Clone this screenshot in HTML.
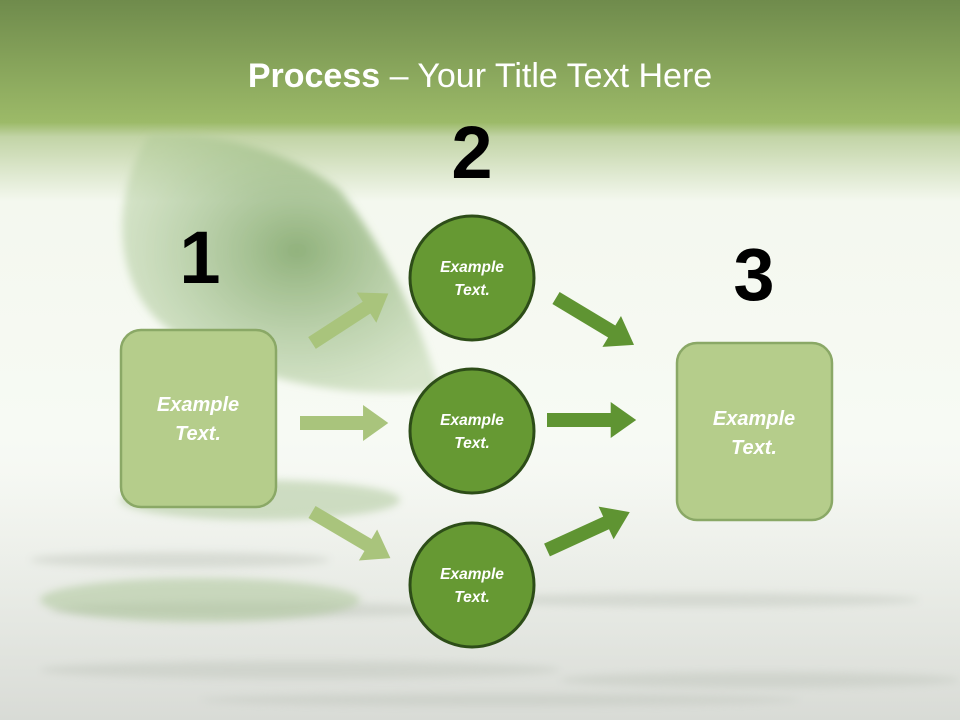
<!DOCTYPE html>
<html><head><meta charset="utf-8"><style>
html,body{margin:0;padding:0}
body{width:960px;height:720px;overflow:hidden;font-family:"Liberation Sans",sans-serif}
</style></head><body>
<svg width="960" height="720" xmlns="http://www.w3.org/2000/svg">
<defs>
<linearGradient id="bg" x1="0" y1="0" x2="0" y2="1">
<stop offset="0" stop-color="#6f8b4c"/>
<stop offset="0.17" stop-color="#9cba68"/>
<stop offset="0.19" stop-color="#c2d4a6"/>
<stop offset="0.28" stop-color="#f4f8ef"/>
<stop offset="0.6" stop-color="#f7faf4"/>
<stop offset="1" stop-color="#eeeeee"/>
</linearGradient>
<radialGradient id="leaf" cx="0.55" cy="0.45" r="0.6">
<stop offset="0" stop-color="#6f9a55" stop-opacity="0.75"/>
<stop offset="1" stop-color="#a9c792" stop-opacity="0.4"/>
</radialGradient>
<linearGradient id="water" x1="0" y1="0" x2="0" y2="1">
<stop offset="0" stop-color="#dfe6d8" stop-opacity="0"/>
<stop offset="1" stop-color="#d3d6d0" stop-opacity="0.8"/>
</linearGradient>
<filter id="bl"><feGaussianBlur stdDeviation="4"/></filter>
<path id="ar" d="M0,-7 L65,-7 L65,-18 L91,0 L65,18 L65,7 L0,7 Z"/>
</defs>
<rect width="960" height="720" fill="url(#bg)"/>
<rect x="0" y="470" width="960" height="250" fill="url(#water)"/>
<g fill="#bfc5bb" opacity="0.45" filter="url(#bl)">
<ellipse cx="180" cy="560" rx="150" ry="8"/>
<ellipse cx="250" cy="610" rx="200" ry="8"/>
<ellipse cx="700" cy="600" rx="220" ry="7"/>
<ellipse cx="300" cy="670" rx="260" ry="9"/>
<ellipse cx="760" cy="680" rx="200" ry="8"/>
<ellipse cx="500" cy="700" rx="300" ry="6"/>
</g>
<g fill="#a9c494" opacity="0.5" filter="url(#bl)">
<ellipse cx="200" cy="600" rx="160" ry="22"/>
<ellipse cx="260" cy="500" rx="140" ry="20"/>
</g>
<path d="M150,135 C110,190 110,290 170,330 C250,385 360,400 440,390 C420,320 380,240 340,190 C290,150 210,130 150,135 Z" fill="url(#leaf)" filter="url(#bl)"/>
<text x="480" y="87" text-anchor="middle" fill="#fff" font-size="34"><tspan font-weight="bold">Process</tspan> – Your Title Text Here</text>
<g font-weight="bold" font-size="74" fill="#000" text-anchor="middle">
<text x="200" y="283">1</text>
<text x="472" y="178">2</text>
<text x="754" y="300">3</text>
</g>
<g fill="#a9c47c">
<use href="#ar" transform="translate(312,343) rotate(-33)"/>
<use href="#ar" transform="translate(300,423) scale(0.97,1)"/>
<use href="#ar" transform="translate(312,512) rotate(30.5)"/>
</g>
<g fill="#5f9432">
<use href="#ar" transform="translate(556,298) rotate(31)"/>
<use href="#ar" transform="translate(547,420) scale(0.98,1)"/>
<use href="#ar" transform="translate(547,550) rotate(-24.6)"/>
</g>
<rect x="121" y="330" width="155" height="177" rx="20" fill="#b5cd8b" stroke="#8aa866" stroke-width="2.5"/>
<rect x="677" y="343" width="155" height="177" rx="20" fill="#b5cd8b" stroke="#8aa866" stroke-width="2.5"/>
<g fill="#669933" stroke="#2d4d18" stroke-width="3">
<circle cx="472" cy="278" r="62"/>
<circle cx="472" cy="431" r="62"/>
<circle cx="472" cy="585" r="62"/>
</g>
<g fill="#fff" font-weight="bold" font-style="italic" text-anchor="middle">
<g font-size="20">
<text x="198" y="411">Example</text><text x="198" y="440">Text.</text>
<text x="754" y="425">Example</text><text x="754" y="454">Text.</text>
</g>
<g font-size="15.5">
<text x="472" y="272">Example</text><text x="472" y="295">Text.</text>
<text x="472" y="425">Example</text><text x="472" y="448">Text.</text>
<text x="472" y="579">Example</text><text x="472" y="602">Text.</text>
</g>
</g>
</svg>
</body></html>
